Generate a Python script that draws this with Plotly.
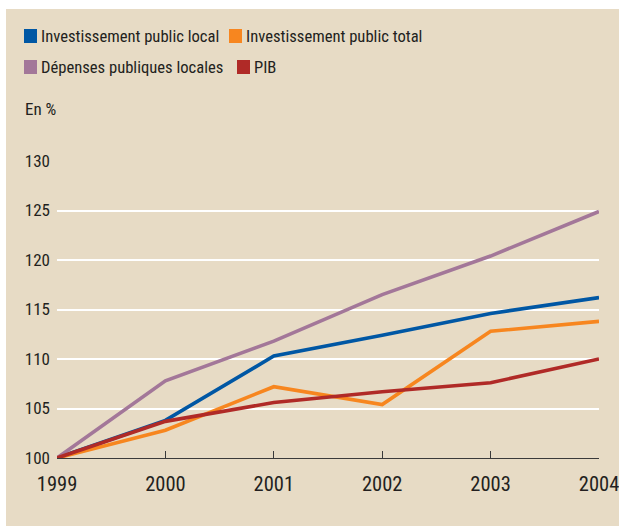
import plotly.graph_objects as go

years = [1999, 2000, 2001, 2002, 2003, 2004]
invest_local = [100, 103.8, 110.3, 112.4, 114.6, 116.2]
invest_total = [100, 102.8, 107.2, 105.4, 112.8, 113.8]
depenses_locales = [100, 107.8, 111.8, 116.5, 120.4, 124.9]
pib = [100, 103.7, 105.6, 106.7, 107.6, 110.0]

names = ["Investissement public local", "Investissement public total",
         "Dépenses publiques locales", "PIB"]
series = [invest_local, invest_total, depenses_locales, pib]
colors = ["#0057a4", "#f7861f", "#a37799", "#b02a27"]
y_ticks = [100, 105, 110, 115, 120, 125, 130]

BEIGE = "#e7dbc5"
FONT = "Roboto Condensed, Liberation Sans Narrow, sans-serif"
TXT = "#231f20"

L, R, T, B = 57, 20, 161, 68
W, H = 619, 526
pw, ph = W - L - R, H - T - B

def px_x(p):
    return (p - L) / pw

def px_y(p):
    return (H - B - p) / ph

fig = go.Figure()
for name, vals, c in zip(names, series, colors):
    fig.add_trace(go.Scatter(x=years, y=vals, mode="lines", name=name,
                             line=dict(color=c, width=3.6), showlegend=False,
                             hoverinfo="x+y"))

fig.add_shape(type="rect", xref="paper", yref="paper",
              x0=px_x(6), x1=px_x(W), y0=px_y(H), y1=px_y(9),
              fillcolor=BEIGE, line=dict(width=0), layer="below")

# legend (two rows, square swatches)
legend_pos = [(24, 36), (229, 36), (24, 67), (237, 67)]
for name, c, (lx, ly) in zip(names, colors, legend_pos):
    fig.add_shape(type="rect", xref="paper", yref="paper",
                  x0=px_x(lx), x1=px_x(lx + 13), y0=px_y(ly + 7), y1=px_y(ly - 7),
                  fillcolor=c, line=dict(width=0))
    fig.add_annotation(text=name, xref="paper", yref="paper",
                       x=px_x(lx + 15), y=px_y(ly), xanchor="left", yanchor="middle",
                       showarrow=False, font=dict(family=FONT, size=16.6, color=TXT))

fig.add_annotation(text="En %", xref="paper", yref="paper",
                   x=px_x(23), y=px_y(109), xanchor="left", yanchor="middle",
                   showarrow=False, font=dict(family=FONT, size=17, color=TXT))

fig.update_layout(
    width=W, height=H,
    margin=dict(l=L, r=R, t=T, b=B, autoexpand=False),
    paper_bgcolor="white",
    plot_bgcolor=BEIGE,
    font=dict(family=FONT, color=TXT),
    showlegend=False,
    xaxis=dict(range=[1999, 2004], tickvals=years,
               ticktext=[str(y) for y in years], showgrid=False,
               showline=True, linecolor="#3a3a3a", linewidth=1.3,
               ticks="inside", ticklen=7, tickwidth=1.3, tickcolor="#3a3a3a",
               tickfont=dict(family=FONT, size=20.5, color=TXT),
               ticklabelstandoff=7, zeroline=False, ticklabeloverflow="allow",
               automargin=False),
    yaxis=dict(range=[100, 130], tickvals=y_ticks,
               showgrid=True, gridcolor="white", gridwidth=1.6,
               showline=False, ticks="", zeroline=False,
               tickfont=dict(family=FONT, size=17, color=TXT),
               ticklabelstandoff=6, automargin=False),
)

fig.write_html(
    "out.html", config={"displayModeBar": False},
    post_script=(
        "document.body.style.margin='0';"
        "document.body.style.overflow='hidden';"
        "document.documentElement.style.overflow='hidden';"
        "var gd=document.getElementById('{plot_id}');"
        "gd.style.overflow='hidden';"
    ))
